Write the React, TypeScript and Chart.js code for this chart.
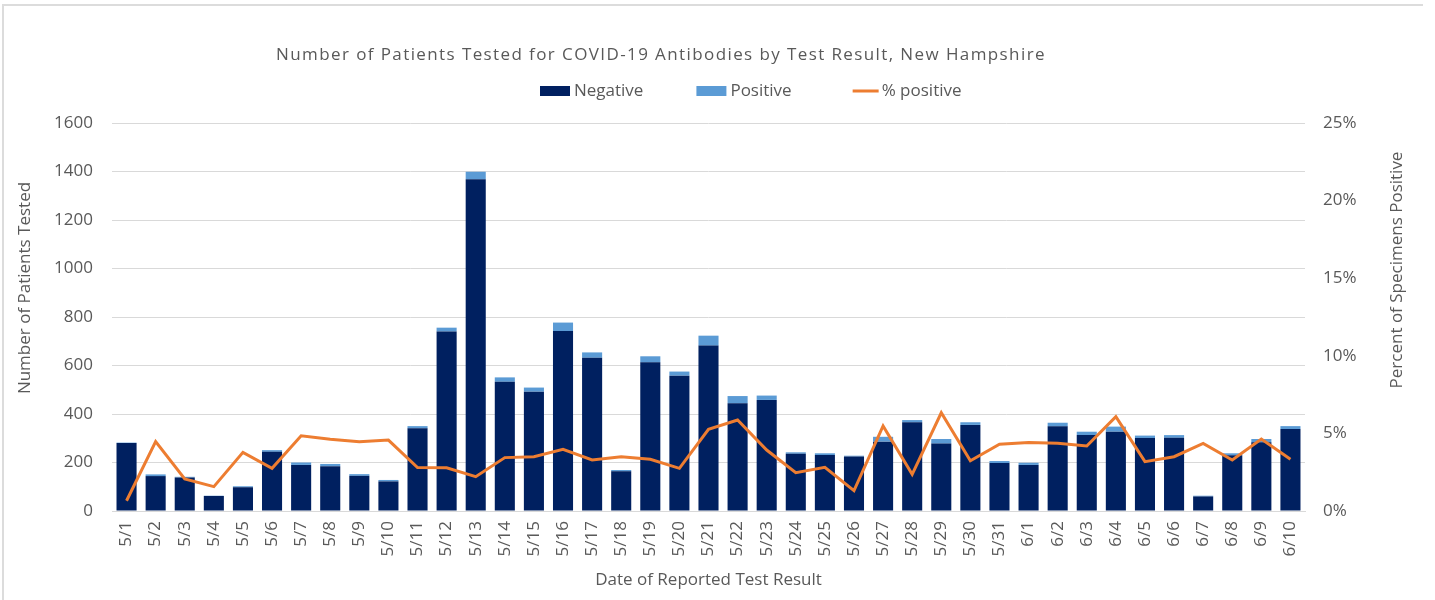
import React, { useEffect, useRef } from "react";
import { Chart, registerables } from "chart.js";

Chart.register(...registerables);

const categories = [
  "5/1","5/2","5/3","5/4","5/5","5/6","5/7","5/8","5/9","5/10",
  "5/11","5/12","5/13","5/14","5/15","5/16","5/17","5/18","5/19","5/20",
  "5/21","5/22","5/23","5/24","5/25","5/26","5/27","5/28","5/29","5/30","5/31",
  "6/1","6/2","6/3","6/4","6/5","6/6","6/7","6/8","6/9","6/10",
];

const negative = [
  280, 144, 138, 62, 98, 244, 190, 185, 145, 122,
  341, 740, 1368, 533, 492, 742, 632, 164, 613, 558,
  682, 444, 458, 236, 231, 225, 286, 366, 278, 355, 198,
  190, 349, 313, 327, 301, 302, 60, 230, 283, 338,
];

const positive = [
  2, 7, 3, 1, 4, 7, 10, 9, 7, 6,
  9, 16, 31, 18, 17, 35, 22, 5, 25, 17,
  41, 30, 18, 6, 7, 3, 20, 9, 19, 11, 8,
  9, 15, 14, 21, 10, 11, 3, 8, 14, 12,
];

const percentPositive = [
  0.66, 4.47, 2.06, 1.57, 3.78, 2.75, 4.85, 4.62, 4.47, 4.57,
  2.8, 2.79, 2.21, 3.44, 3.5, 3.97, 3.29, 3.5, 3.33, 2.75,
  5.26, 5.86, 3.93, 2.47, 2.81, 1.31, 5.48, 2.36, 6.33, 3.24, 4.3,
  4.42, 4.36, 4.19, 6.08, 3.18, 3.5, 4.36, 3.29, 4.64, 3.33,
];

const leftTicks = [0, 200, 400, 600, 800, 1000, 1200, 1400, 1600];
const rightTicks = [0, 5, 10, 15, 20, 25];

const TITLE = "Number of Patients Tested for COVID-19 Antibodies by Test Result, New Hampshire";
const LEFT_TITLE = "Number of Patients Tested";
const RIGHT_TITLE = "Percent of Specimens Positive";
const X_TITLE = "Date of Reported Test Result";

const FONT = "'Open Sans', 'DejaVu Sans', sans-serif";
const TEXT = "#595959";
const GRID = "#d9d9d9";

const textPlugin = {
  id: "customText",
  afterDraw(chart: any) {
    const { ctx } = chart;
    // Chart title
    ctx.save();
    ctx.font = `17px ${FONT}`;
    ctx.fillStyle = TEXT;
    ctx.textBaseline = "middle";
    ctx.textAlign = "center";
    try { (ctx as any).letterSpacing = "1.4px"; } catch (e) {}
    ctx.fillText(TITLE, 661, 55);
    ctx.restore();

    // Legend
    ctx.save();
    ctx.font = `17px ${FONT}`;
    ctx.fillStyle = TEXT;
    ctx.textBaseline = "middle";
    ctx.textAlign = "left";
    let x = 540;
    const y = 91;
    chart.data.datasets.forEach((ds: any) => {
      if (ds.type === "line") {
        x += 8;
        ctx.strokeStyle = ds.borderColor;
        ctx.lineWidth = 3;
        ctx.beginPath();
        ctx.moveTo(x, y);
        ctx.lineTo(x + 26, y);
        ctx.stroke();
        ctx.fillStyle = TEXT;
        ctx.fillText(ds.label, x + 29, y);
      } else {
        ctx.fillStyle = ds.backgroundColor;
        ctx.fillRect(x, y - 5, 30, 10);
        ctx.fillStyle = TEXT;
        ctx.fillText(ds.label, x + 34, y);
      }
      x += 34 + ctx.measureText(ds.label).width + 53;
    });
    ctx.restore();

    // Left axis title
    ctx.save();
    ctx.font = `17px ${FONT}`;
    ctx.fillStyle = TEXT;
    ctx.textAlign = "center";
    ctx.textBaseline = "middle";
    ctx.translate(25, 288);
    ctx.rotate(-Math.PI / 2);
    ctx.fillText(LEFT_TITLE, 0, 0);
    ctx.restore();

    // Right axis title
    ctx.save();
    ctx.font = `17px ${FONT}`;
    ctx.fillStyle = TEXT;
    ctx.textAlign = "center";
    ctx.textBaseline = "middle";
    ctx.translate(1397, 270);
    ctx.rotate(-Math.PI / 2);
    ctx.fillText(RIGHT_TITLE, 0, 0);
    ctx.restore();
  },
};

export default function App() {
  const ref = useRef<HTMLCanvasElement | null>(null);

  useEffect(() => {
    if (!ref.current) return;
    const chart = new Chart(ref.current, {
      type: "bar",
      data: {
        labels: categories,
        datasets: [
          {
            type: "bar",
            label: "Negative",
            data: negative,
            backgroundColor: "#002060",
            yAxisID: "y",
            stack: "s",
            order: 1,
            categoryPercentage: 1,
            barPercentage: 0.69,
          },
          {
            type: "bar",
            label: "Positive",
            data: positive,
            backgroundColor: "#5B9BD5",
            yAxisID: "y",
            stack: "s",
            order: 1,
            categoryPercentage: 1,
            barPercentage: 0.69,
          },
          {
            type: "line",
            label: "% positive",
            data: percentPositive,
            borderColor: "#ED7D31",
            backgroundColor: "#ED7D31",
            borderWidth: 3,
            pointRadius: 0,
            tension: 0,
            yAxisID: "y1",
            order: 0,
          },
        ] as any,
      },
      options: {
        animation: false,
        responsive: false,
        layout: { padding: { top: 123, left: 0, right: 0, bottom: 0 } },
        plugins: {
          tooltip: { enabled: false },
          title: { display: false },
          legend: { display: false },
        },
        scales: {
          x: {
            stacked: true,
            grid: { display: false, drawTicks: false },
            border: { display: true, color: GRID, width: 1 },
            ticks: {
              color: TEXT,
              font: { family: FONT, size: 17 },
              minRotation: 90,
              maxRotation: 90,
              autoSkip: false,
              padding: 10,
            },
            title: {
              display: true,
              text: X_TITLE,
              color: TEXT,
              font: { family: FONT, size: 17 },
              padding: { top: 0, bottom: 10 },
            },
            afterFit: (scale: any) => {
              scale.height = 89;
            },
          },
          y: {
            stacked: true,
            position: "left",
            min: 0,
            max: 1600,
            afterBuildTicks: (scale: any) => {
              scale.ticks = leftTicks.map((v) => ({ value: v }));
            },
            grid: { color: GRID, drawTicks: false },
            border: { display: false },
            ticks: {
              color: TEXT,
              font: { family: FONT, size: 17 },
              padding: 19,
              callback: (v: any) => String(v),
            },
            afterFit: (scale: any) => {
              scale.width = 112;
            },
          },
          y1: {
            position: "right",
            min: 0,
            max: 25,
            afterBuildTicks: (scale: any) => {
              scale.ticks = rightTicks.map((v) => ({ value: v }));
            },
            grid: { display: false, drawTicks: false },
            border: { display: false },
            ticks: {
              color: TEXT,
              font: { family: FONT, size: 17 },
              padding: 18,
              callback: (v: any) => `${v}%`,
            },
            afterFit: (scale: any) => {
              scale.width = 130;
            },
          },
        },
      },
      plugins: [textPlugin],
    });
    return () => chart.destroy();
  }, []);

  return (
    <div style={{ position: "fixed", left: 0, top: 0, width: 1435, height: 600, background: "#fff" }}>
      <div
        style={{
          position: "absolute",
          left: 2,
          top: 4,
          width: 1421,
          height: 600,
          borderTop: "2px solid #dcdcdc",
          borderLeft: "2px solid #dcdcdc",
          boxSizing: "border-box",
        }}
      />
      <canvas ref={ref} width={1435} height={600} style={{ position: "absolute", left: 0, top: 0 }} />
    </div>
  );
}
